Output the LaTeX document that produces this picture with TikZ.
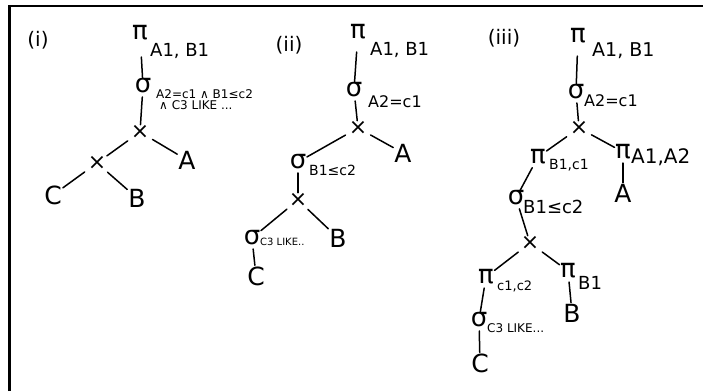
\documentclass[tikz,border=0pt]{standalone}
\usepackage{fontspec}
\setmainfont{DejaVu Sans}
\begin{document}
\begin{tikzpicture}[x=1pt,y=-1pt,
  fs/.style={font=\fontsize{#1}{#1}\selectfont},
  sym/.style={fs=26,inner sep=0.5pt},
  rel/.style={fs=25,inner sep=1pt},
  cross/.style={fs=22,inner sep=0.5pt},
  sub/.style={anchor=west,inner sep=0pt,fs=#1},
  lab/.style={fs=20,inner sep=0pt},
  edge/.style={line width=1.5pt,line cap=round,shorten <=#1},
  edge/.default=3pt
]
\useasboundingbox (0,0) rectangle (703,391);
\draw[line width=2.6pt] (9.5,391) -- (9.5,6) -- (703,6);

% ---------- (i)
\node[lab] (l1) at (38,40) {(i)};
\node[sym] (p1) at (140,33) {π};
\node[sub=18] (p1s) at (150,51) {A1, B1};
\node[sym] (s1) at (143,86) {σ};
\node[anchor=north west,inner sep=0pt,fs=12,align=left] (s1s) at (156,89) {A2=c1 ∧ B1≤c2\\[-1pt]\hspace*{3pt}∧ C3 LIKE ...};
\node[cross] (x1) at (140,132) {×};
\node[rel] (A1) at (187,160) {A};
\node[cross] (x2) at (97,163) {×};
\node[rel] (C1) at (53,195) {C};
\node[rel] (B1) at (137,198) {B};
\draw[edge=16pt] (p1) -- (s1);
\draw[edge] (s1) -- (x1);
\draw[edge] (x1) -- (x2);
\draw[edge] (x1) -- (A1);
\draw[edge] (x2) -- (C1);
\draw[edge] (x2) -- (B1);

% ---------- (ii)
\node[lab] (l2) at (289,45) {(ii)};
\node[sym] (p2) at (358,32) {π};
\node[sub=18] (p2s) at (370,50) {A1, B1};
\node[sym] (s2) at (354,90) {σ};
\node[sub=16] (s2s) at (368,102) {A2=c1};
\node[cross] (x3) at (358,128) {×};
\node[rel] (A2) at (403,153) {A};
\node[sym] (s3) at (298,162) {σ};
\node[sub=14] (s3s) at (309,170) {B1≤c2};
\node[cross] (x4) at (298,200) {×};
\node[sym] (s4) at (252,238) {σ};
\node[sub=10] (s4s) at (260,242) {C3 LIKE..};
\node[rel] (B2) at (338,238) {B};
\node[rel] (C2) at (256,276) {C};
\draw[edge=12pt] (p2) -- (s2);
\draw[edge] (s2) -- (x3);
\draw[edge] (x3) -- (s3);
\draw[edge] (x3) -- (A2);
\draw[edge] (s3) -- (x4);
\draw[edge] (x4) -- (s4);
\draw[edge] (x4) -- (B2);
\draw[edge] (s4) -- (C2);

% ---------- (iii)
\node[lab] (l3) at (504,38) {(iii)};
\node[sym] (p3) at (578,36) {π};
\node[sub=19] (p3s) at (592,51) {A1, B1};
\node[sym] (s5) at (576,92) {σ};
\node[sub=16] (s5s) at (584,101) {A2=c1};
\node[cross] (x5) at (579,128) {×};
\node[sym] (p4) at (538,157) {π};
\node[sub=14] (p4s) at (549,165) {B1,c1};
\node[sym] (p5) at (623,152) {π};
\node[sub=20] (p5s) at (631,157) {A1,A2};
\node[rel] (A3) at (623,193) {A};
\node[sym] (s6) at (516,198) {σ};
\node[sub=18] (s6s) at (523,207) {B1≤c2};
\node[cross] (x6) at (530,243) {×};
\node[sym] (p6) at (486,277) {π};
\node[sub=13] (p6s) at (497,286) {c1,c2};
\node[sym] (p7) at (568,271) {π};
\node[sub=18] (p7s) at (578,283) {B1};
\node[rel] (B3) at (572,313) {B};
\node[sym] (s7) at (479,320) {σ};
\node[sub=12] (s7s) at (487,328) {C3 LIKE...};
\node[rel] (C3) at (480,363) {C};
\draw[edge=12pt] (p3) -- (s5);
\draw[edge] (s5) -- (x5);
\draw[edge] (x5) -- (p4);
\draw[edge] (x5) -- (p5);
\draw[edge] (p5) -- (A3);
\draw[edge] (p4) -- (s6);
\draw[edge] (s6) -- (x6);
\draw[edge] (x6) -- (p6);
\draw[edge] (x6) -- (p7);
\draw[edge] (p7) -- (B3);
\draw[edge] (p6) -- (s7);
\draw[edge] (s7) -- (C3);
\end{tikzpicture}
\end{document}
